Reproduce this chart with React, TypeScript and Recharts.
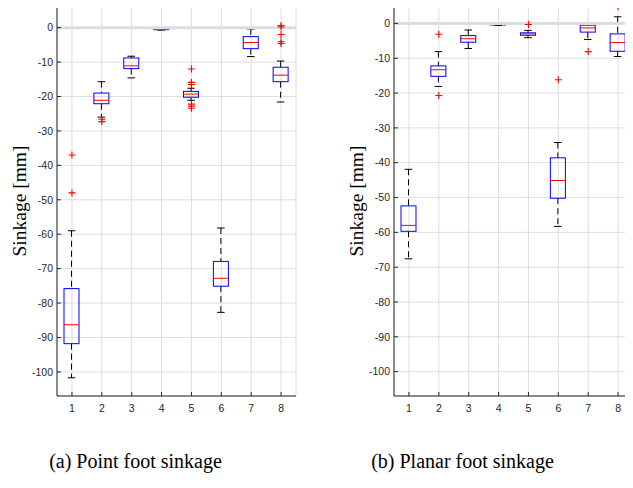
import React from "react";
import {
  ComposedChart,
  Bar,
  Scatter,
  XAxis,
  YAxis,
  CartesianGrid,
  ReferenceLine,
} from "recharts";

const categories = ["1", "2", "3", "4", "5", "6", "7", "8"];
const yTicks = [-100, -90, -80, -70, -60, -50, -40, -30, -20, -10, 0];

// (a) point foot
const pointWhiskerHigh = [-59.0, -15.7, -8.3, -0.2, -17.6, -58.2, -0.4, -9.7];
const pointQ3 = [-75.8, -19.0, -8.8, -0.3, -18.5, -67.9, -2.6, -11.5];
const pointMedian = [-86.3, -21.1, -11.1, -0.45, -19.3, -72.8, -4.3, -13.8];
const pointQ1 = [-91.8, -22.1, -11.9, -0.6, -20.2, -75.1, -6.1, -15.7];
const pointWhiskerLow = [-101.7, -26.0, -14.6, -0.7, -21.1, -82.7, -8.4, -21.6];
const pointOutliers = [
  [-37.0, -48.0],
  [-26.6, -27.3],
  [],
  [],
  [-12.0, -15.9, -16.5, -22.2, -22.8, -23.4],
  [],
  [],
  [0.6, 0.2, -2.0, -4.1, -4.6],
];

// (b) planar foot
const planarWhiskerHigh = [-41.9, -8.1, -1.9, -0.1, -2.0, -34.2, 0.0, 1.9];
const planarQ3 = [-52.4, -12.2, -3.5, -0.2, -2.7, -38.6, -0.5, -3.0];
const planarMedian = [-58.0, -13.3, -4.4, -0.3, -3.0, -45.1, -1.3, -5.5];
const planarQ1 = [-59.7, -15.2, -5.4, -0.45, -3.4, -50.2, -2.5, -8.0];
const planarWhiskerLow = [-67.6, -18.1, -7.2, -0.6, -4.1, -58.3, -4.6, -9.5];
const planarOutliers = [[], [-3.1, -20.7], [], [], [-0.3], [-16.2], [-8.1], [4.8]];

const AXIS = "#262626";
const GRID = "#dedede";
const tickFont = { fontSize: 10.5, fill: AXIS, fontFamily: "'Liberation Sans', Arial, sans-serif" };

function buildRows(hi: number[], q3: number[], med: number[], q1: number[], lo: number[]) {
  return categories.map((name, i) => ({
    name,
    whiskerHigh: hi[i],
    q3: q3[i],
    median: med[i],
    q1: q1[i],
    whiskerLow: lo[i],
  }));
}

function buildOutliers(out: number[][]) {
  return out.flatMap((vals, i) => vals.map((value) => ({ name: categories[i], value })));
}

function BoxShape(props: any) {
  const { x, y, width, height, payload } = props;
  const top = Math.min(y, y + height);
  const h = Math.abs(height);
  const hi = payload.whiskerHigh;
  const lo = payload.whiskerLow;
  const toY = (v: number) => top + ((hi - v) / (hi - lo)) * h;
  const cx = x + width / 2;
  const yq3 = toY(payload.q3);
  const yq1 = toY(payload.q1);
  const ym = toY(payload.median);
  const cap = width / 4;
  return (
    <g>
      <line x1={cx} x2={cx} y1={top} y2={yq3} stroke="#000" strokeDasharray="6 4" />
      <line x1={cx} x2={cx} y1={yq1} y2={top + h} stroke="#000" strokeDasharray="6 4" />
      <line x1={cx - cap} x2={cx + cap} y1={top} y2={top} stroke="#000" />
      <line x1={cx - cap} x2={cx + cap} y1={top + h} y2={top + h} stroke="#000" />
      <rect x={x} y={yq3} width={width} height={Math.max(yq1 - yq3, 0.5)} fill="none" stroke="#0000ff" />
      <line x1={x} x2={x + width} y1={ym} y2={ym} stroke="#ff0000" />
    </g>
  );
}

function PlusShape(props: any) {
  const { cx, cy } = props;
  const s = 3.5;
  return (
    <path d={`M${cx - s},${cy}H${cx + s}M${cx},${cy - s}V${cy + s}`} stroke="#ff0000" strokeWidth={1.1} fill="none" />
  );
}

function BoxPanel({ rows, outliers, yMax, top }: any) {
  return (
    <ComposedChart
      width={300}
      height={430}
      data={rows}
      margin={{ top, right: 4, bottom: 10, left: 12 }}
    >
      <CartesianGrid stroke={GRID} />
      <ReferenceLine y={0} stroke="#dcdcdc" strokeWidth={3} />
      <XAxis
        dataKey="name"
        allowDuplicatedCategory={false}
        stroke={AXIS}
        tick={tickFont}
        tickSize={-4}
        tickMargin={13}
        height={24}
      />
      <XAxis
        xAxisId="top"
        orientation="top"
        dataKey="name"
        allowDuplicatedCategory={false}
        stroke={AXIS}
        tick={false}
        tickSize={-4}
        height={0}
      />
      <YAxis
        type="number"
        domain={[-107, yMax]}
        ticks={yTicks}
        stroke={AXIS}
        tick={tickFont}
        tickSize={-4}
        tickMargin={8}
        width={45}
      />
      <YAxis
        yAxisId="right"
        orientation="right"
        type="number"
        domain={[-107, yMax]}
        ticks={yTicks}
        stroke={AXIS}
        tick={false}
        tickSize={-4}
        width={0}
      />
      <Bar
        dataKey={(d: any) => [d.whiskerLow, d.whiskerHigh]}
        barSize={15}
        shape={BoxShape}
        isAnimationActive={false}
      />
      <Scatter data={outliers} dataKey="value" shape={PlusShape} isAnimationActive={false} />
    </ComposedChart>
  );
}

const serif = "'Liberation Serif', 'Times New Roman', Times, serif";

function VLabel({ x, y }: { x: number; y: number }) {
  return (
    <div
      style={{
        position: "absolute",
        left: x,
        top: y,
        transform: "translate(-50%, -50%) rotate(-90deg)",
        whiteSpace: "nowrap",
        fontFamily: serif,
        fontSize: 19.5,
        lineHeight: 1,
        color: "#000",
      }}
    >
      Sinkage [mm]
    </div>
  );
}

function Caption({ x, text }: { x: number; text: string }) {
  return (
    <div
      style={{
        position: "absolute",
        left: x,
        top: 451,
        transform: "translateX(-50%)",
        whiteSpace: "nowrap",
        fontFamily: serif,
        fontSize: 20,
        lineHeight: 1,
        color: "#000",
      }}
    >
      {text}
    </div>
  );
}

export default function App() {
  const pointRows = buildRows(pointWhiskerHigh, pointQ3, pointMedian, pointQ1, pointWhiskerLow);
  const planarRows = buildRows(planarWhiskerHigh, planarQ3, planarMedian, planarQ1, planarWhiskerLow);
  return (
    <div style={{ position: "relative", width: 633, height: 488, margin: "-8px 0 0 -8px", background: "#fff", overflow: "hidden" }}>
      <div style={{ position: "absolute", left: 0, top: 0 }}>
        <BoxPanel rows={pointRows} outliers={buildOutliers(pointOutliers)} yMax={6} top={7} />
      </div>
      <div style={{ position: "absolute", left: 337, top: 0 }}>
        <BoxPanel rows={planarRows} outliers={buildOutliers(planarOutliers)} yMax={5} top={6} />
      </div>
      <VLabel x={20} y={201} />
      <VLabel x={357} y={201} />
      <Caption x={135.5} text="(a) Point foot sinkage" />
      <Caption x={462.5} text="(b) Planar foot sinkage" />
    </div>
  );
}
